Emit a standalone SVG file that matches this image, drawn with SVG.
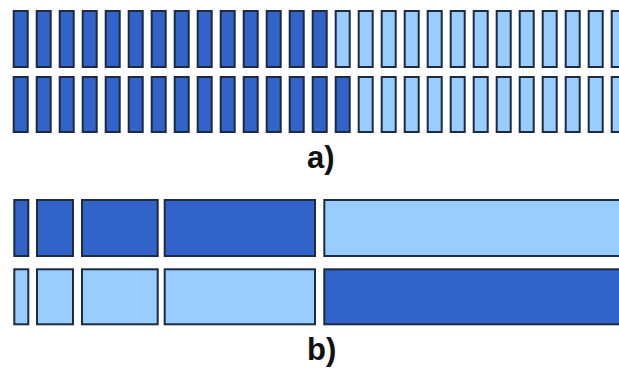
<svg xmlns="http://www.w3.org/2000/svg" width="619" height="370" viewBox="0 0 619 370">
<style>
.d{fill:#3163C9;stroke:#1c2b40;stroke-width:2}
.l{fill:#99CCFF;stroke:#1c2b40;stroke-width:2}
.t{font-family:"Liberation Sans",Arial,sans-serif;font-weight:bold;font-size:31px;fill:#111}
</style>
<rect width="619" height="370" fill="#fff"/>
<g id="a-top">
<rect class="d" x="13.7" y="11" width="14" height="56"/>
<rect class="d" x="36.7" y="11" width="14" height="56"/>
<rect class="d" x="59.7" y="11" width="14" height="56"/>
<rect class="d" x="82.7" y="11" width="14" height="56"/>
<rect class="d" x="105.7" y="11" width="14" height="56"/>
<rect class="d" x="128.7" y="11" width="14" height="56"/>
<rect class="d" x="151.7" y="11" width="14" height="56"/>
<rect class="d" x="174.7" y="11" width="14" height="56"/>
<rect class="d" x="197.7" y="11" width="14" height="56"/>
<rect class="d" x="220.7" y="11" width="14" height="56"/>
<rect class="d" x="243.7" y="11" width="14" height="56"/>
<rect class="d" x="266.7" y="11" width="14" height="56"/>
<rect class="d" x="289.7" y="11" width="14" height="56"/>
<rect class="d" x="312.7" y="11" width="14" height="56"/>
<rect class="l" x="335.7" y="11" width="14" height="56"/>
<rect class="l" x="358.7" y="11" width="14" height="56"/>
<rect class="l" x="381.7" y="11" width="14" height="56"/>
<rect class="l" x="404.7" y="11" width="14" height="56"/>
<rect class="l" x="427.7" y="11" width="14" height="56"/>
<rect class="l" x="450.7" y="11" width="14" height="56"/>
<rect class="l" x="473.7" y="11" width="14" height="56"/>
<rect class="l" x="496.7" y="11" width="14" height="56"/>
<rect class="l" x="519.7" y="11" width="14" height="56"/>
<rect class="l" x="542.7" y="11" width="14" height="56"/>
<rect class="l" x="565.7" y="11" width="14" height="56"/>
<rect class="l" x="588.7" y="11" width="14" height="56"/>
<rect class="l" x="611.7" y="11" width="14" height="56"/>
</g>
<g id="a-bottom">
<rect class="d" x="13.7" y="77" width="14" height="55"/>
<rect class="d" x="36.7" y="77" width="14" height="55"/>
<rect class="d" x="59.7" y="77" width="14" height="55"/>
<rect class="d" x="82.7" y="77" width="14" height="55"/>
<rect class="d" x="105.7" y="77" width="14" height="55"/>
<rect class="d" x="128.7" y="77" width="14" height="55"/>
<rect class="d" x="151.7" y="77" width="14" height="55"/>
<rect class="d" x="174.7" y="77" width="14" height="55"/>
<rect class="d" x="197.7" y="77" width="14" height="55"/>
<rect class="d" x="220.7" y="77" width="14" height="55"/>
<rect class="d" x="243.7" y="77" width="14" height="55"/>
<rect class="d" x="266.7" y="77" width="14" height="55"/>
<rect class="d" x="289.7" y="77" width="14" height="55"/>
<rect class="d" x="312.7" y="77" width="14" height="55"/>
<rect class="d" x="335.7" y="77" width="14" height="55"/>
<rect class="l" x="358.7" y="77" width="14" height="55"/>
<rect class="l" x="381.7" y="77" width="14" height="55"/>
<rect class="l" x="404.7" y="77" width="14" height="55"/>
<rect class="l" x="427.7" y="77" width="14" height="55"/>
<rect class="l" x="450.7" y="77" width="14" height="55"/>
<rect class="l" x="473.7" y="77" width="14" height="55"/>
<rect class="l" x="496.7" y="77" width="14" height="55"/>
<rect class="l" x="519.7" y="77" width="14" height="55"/>
<rect class="l" x="542.7" y="77" width="14" height="55"/>
<rect class="l" x="565.7" y="77" width="14" height="55"/>
<rect class="l" x="588.7" y="77" width="14" height="55"/>
<rect class="l" x="611.7" y="77" width="14" height="55"/>
</g>
<g id="label-a"><text class="t" x="307" y="168">a)</text></g>
<g id="b-top">
<rect class="d" x="14.3" y="200" width="14" height="56"/>
<rect class="d" x="37" y="200" width="36" height="56"/>
<rect class="d" x="82" y="200" width="75.7" height="56"/>
<rect class="d" x="164.7" y="200" width="150.3" height="56"/>
<rect class="l" x="324.3" y="200" width="310" height="56"/>
</g>
<g id="b-bottom">
<rect class="l" x="14.3" y="269.3" width="14" height="55"/>
<rect class="l" x="37" y="269.3" width="36" height="55"/>
<rect class="l" x="82" y="269.3" width="75.7" height="55"/>
<rect class="l" x="164.7" y="269.3" width="150.3" height="55"/>
<rect class="d" x="324.3" y="269.3" width="310" height="55"/>
</g>
<g id="label-b"><text class="t" x="307" y="360">b)</text></g>
</svg>
